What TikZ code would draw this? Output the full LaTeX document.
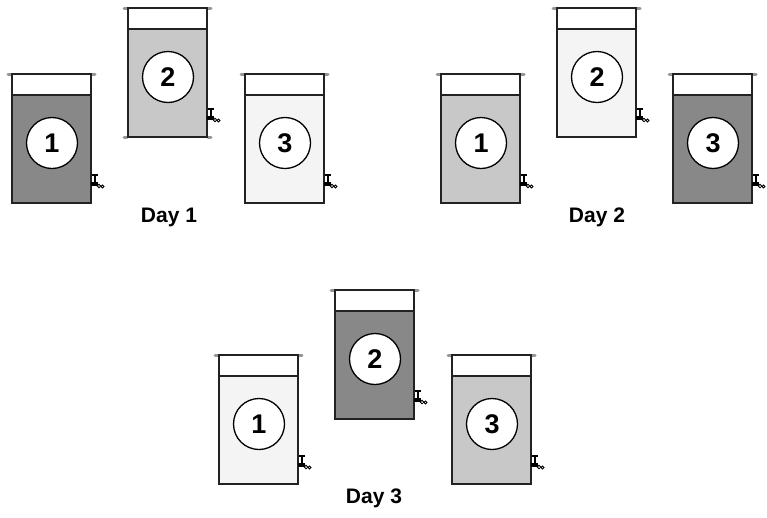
\documentclass[tikz,border=0pt]{standalone}
\usepackage{fontspec}
\setmainfont{Liberation Sans}
\definecolor{darkfill}{RGB}{136,136,136}
\definecolor{midfill}{RGB}{200,200,200}
\definecolor{lightfill}{RGB}{244,244,244}
\definecolor{wallc}{RGB}{34,34,34}
\definecolor{capc}{RGB}{150,150,150}
\tikzset{
  wall/.style={draw=wallc, line width=1.8pt},
  rimcap/.style={draw=capc, line width=3pt, line cap=round},
  numcircle/.style={circle, draw=black, line width=1.3pt, fill=white, minimum size=51pt, inner sep=0pt, font=\fontsize{27}{27}\selectfont\bfseries},
  daylabel/.style={font=\fontsize{21}{21}\selectfont\bfseries}
}
% \mytank{name}{left x}{top y}{fill colour}{number}{bottom caps 0/1}
\newcommand{\mytank}[6]{%
  \begin{scope}[shift={(#2pt,-#3pt)}]
    \fill[#4] (0pt,-21pt) rectangle (79pt,-129pt);
    \fill[white] (0pt,0pt) rectangle (79pt,-21pt);
    \draw[rimcap] (-4pt,0pt) -- (-1pt,0pt);
    \draw[rimcap] (80pt,0pt) -- (83pt,0pt);
    \ifnum#6=1
      \draw[rimcap] (-4pt,-129pt) -- (-1pt,-129pt);
      \draw[rimcap] (80pt,-129pt) -- (83pt,-129pt);
    \fi
    \draw[wall] (0pt,0pt) rectangle (79pt,-129pt);
    \draw[wall] (0pt,-21pt) -- (79pt,-21pt);
    \node[numcircle] (#1) at (40pt,-69pt) {#5};
    % tap
    \draw[black, line width=1.2pt] (80pt,-101pt) -- (86pt,-101pt);
    \draw[black, line width=1.6pt] (83pt,-101pt) -- (83pt,-109pt);
    \fill[black] (79pt,-108pt) rectangle (85.5pt,-112pt);
    \draw[black, line width=0.8pt] (87pt,-112pt) circle (1.8pt);
    \draw[black, line width=0.8pt] (90.5pt,-112.5pt) circle (1.5pt);
  \end{scope}%
}
\begin{document}
\begin{tikzpicture}[x=1pt,y=1pt]
\useasboundingbox (0,0) rectangle (767,-517);
\fill[white] (0,0) rectangle (767,-517);
% Day 1
\mytank{aone}{12}{74}{darkfill}{1}{0}
\mytank{atwo}{128}{8}{midfill}{2}{1}
\mytank{athree}{245}{74}{lightfill}{3}{0}
\node[daylabel] (dayone) at (169,-217) {Day 1};
% Day 2
\mytank{bone}{441}{74}{midfill}{1}{0}
\mytank{btwo}{557}{8}{lightfill}{2}{0}
\mytank{bthree}{673}{74}{darkfill}{3}{0}
\node[daylabel] (daytwo) at (597,-217) {Day 2};
% Day 3
\mytank{cone}{219}{355}{lightfill}{1}{0}
\mytank{ctwo}{335}{290}{darkfill}{2}{0}
\mytank{cthree}{452}{355}{midfill}{3}{0}
\node[daylabel] (daythree) at (374,-498) {Day 3};
\end{tikzpicture}
\end{document}
